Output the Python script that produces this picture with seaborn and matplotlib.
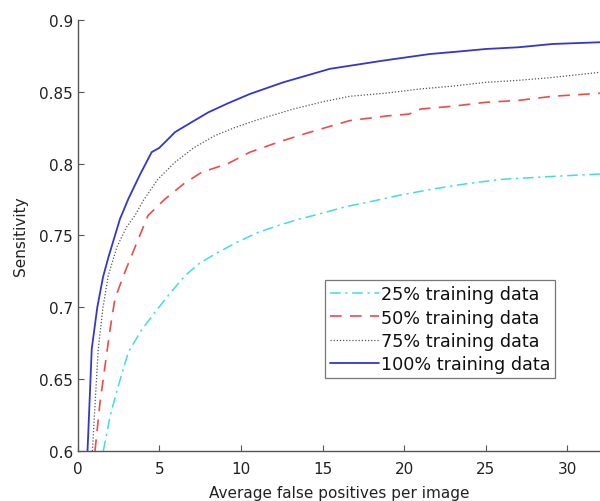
import matplotlib
matplotlib.use("Agg")
import matplotlib.pyplot as plt
import seaborn as sns
import pandas as pd

# 25% training data
x25 = [1.57, 2.0, 2.49, 3.1, 3.9, 4.73, 5.6, 6.57, 7.5, 8.41, 9.7, 11.06, 12.3, 13.6, 15.15, 16.4, 17.7, 19.7, 21.8, 23.8, 25.86, 28.9, 32.0]
y25 = [0.600, 0.625, 0.6455, 0.6687, 0.684, 0.6965, 0.709, 0.722, 0.731, 0.737, 0.745, 0.7522, 0.757, 0.7615, 0.766, 0.770, 0.773, 0.778, 0.7824, 0.786, 0.789, 0.791, 0.7928]

# 50% training data
x50 = [1.06, 1.35, 1.67, 2.0, 2.28, 2.8, 3.3, 4.3, 5.35, 6.5, 7.59, 9.2, 10.55, 12.3, 14.2, 16.67, 19.1, 20.3, 21.0, 23.0, 25.0, 27.0, 29.1, 32.0]
y50 = [0.600, 0.632, 0.659, 0.686, 0.7058, 0.722, 0.736, 0.7638, 0.7754, 0.786, 0.794, 0.800, 0.808, 0.815, 0.8218, 0.830, 0.8334, 0.8345, 0.838, 0.840, 0.8427, 0.844, 0.8469, 0.849]

# 75% training data
x75 = [0.90, 1.1, 1.26, 1.55, 1.87, 2.4, 3.0, 3.5, 4.0, 4.9, 5.96, 7.1, 8.4, 9.6, 10.87, 13.2, 15.0, 16.67, 18.8, 21.0, 23.0, 25.0, 27.0, 29.1, 32.0]
y75 = [0.600, 0.640, 0.671, 0.700, 0.722, 0.742, 0.756, 0.7638, 0.7740, 0.789, 0.801, 0.811, 0.8195, 0.825, 0.830, 0.838, 0.843, 0.8469, 0.849, 0.852, 0.854, 0.8566, 0.858, 0.860, 0.8636]

# 100% training data
x100 = [0.60, 0.65, 0.86, 1.2, 1.55, 1.88, 2.59, 3.1, 3.8, 4.53, 5.0, 5.97, 7.0, 8.0, 9.2, 10.55, 12.59, 15.45, 18.7, 21.57, 23.3, 25.0, 27.0, 29.1, 32.0]
y100 = [0.600, 0.613, 0.671, 0.700, 0.721, 0.7348, 0.7615, 0.7754, 0.792, 0.808, 0.811, 0.822, 0.829, 0.8357, 0.842, 0.8485, 0.8566, 0.866, 0.8717, 0.8763, 0.878, 0.8798, 0.881, 0.8833, 0.8845]

labels = ["25% training data", "50% training data", "75% training data", "100% training data"]
xticks = [0, 5, 10, 15, 20, 25, 30]
yticks = [0.6, 0.65, 0.7, 0.75, 0.8, 0.85, 0.9]
ytick_labels = ["0.6", "0.65", "0.7", "0.75", "0.8", "0.85", "0.9"]

sns.set_theme(style="white")
plt.rcParams["font.family"] = ["DejaVu Sans"]

fig = plt.figure(figsize=(6.0, 5.02), dpi=100)
ax = fig.add_axes([0.1295, 0.0996, 0.8705, 0.8586])

series = [(x25, y25), (x50, y50), (x75, y75), (x100, y100)]
colors = ["#44dddd", "#ee4b4b", "#555555", "#3535d0"]
dashes = [(7, 3, 1.5, 3), (7, 5), (1, 1.5), None]
widths = [1.1, 1.2, 0.9, 1.3]

for (xs, ys), lab, c, d, w in zip(series, labels, colors, dashes, widths):
    df = pd.DataFrame({"x": xs, "y": ys})
    sns.lineplot(data=df, x="x", y="y", ax=ax, estimator=None, sort=False,
                 color=c, linewidth=w, label=lab)
    ln = ax.get_lines()[-1]
    if d is not None:
        ln.set_dashes(d)

ax.set_xlim(0, 32)
ax.set_ylim(0.6, 0.9)
ax.set_xticks(xticks)
ax.set_yticks(yticks)
ax.set_yticklabels(ytick_labels)
ax.set_xlabel("Average false positives per image", fontsize=11, color="#222222", labelpad=7)
ax.set_ylabel("Sensitivity", fontsize=11, color="#222222", labelpad=8)
ax.tick_params(axis="both", direction="in", length=4, width=0.8, colors="#555555",
               labelcolor="#222222", labelsize=11, bottom=True, left=True)
ax.tick_params(axis="x", pad=7)
for s in ["top", "right"]:
    ax.spines[s].set_visible(False)
for s in ["left", "bottom"]:
    ax.spines[s].set_color("#555555")
    ax.spines[s].set_linewidth(1.0)
ax.grid(False)

leg = ax.legend(loc="upper left", bbox_to_anchor=(325 / 600, 1 - 281 / 502),
                bbox_transform=fig.transFigure, borderaxespad=0, fontsize=12.7,
                frameon=True, fancybox=False, edgecolor="#555555",
                handlelength=2.75, handletextpad=0.1, labelspacing=0.3,
                borderpad=0.3)
leg.get_frame().set_linewidth(0.9)
for t in leg.get_texts():
    t.set_color("#111111")

fig.savefig("out.png", dpi=100)
